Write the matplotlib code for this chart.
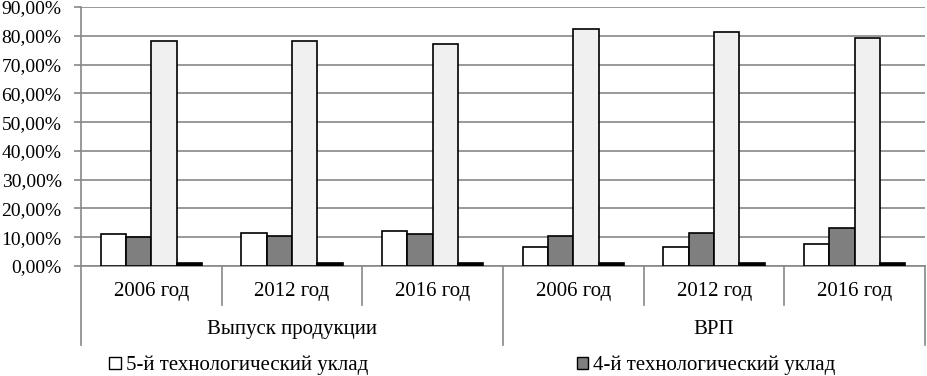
import numpy as np
import matplotlib.pyplot as plt
from matplotlib.patches import Patch
from matplotlib.ticker import FuncFormatter
from matplotlib.transforms import blended_transform_factory

plt.rcParams['font.family'] = ['Liberation Serif', 'DejaVu Serif']

years = ['2006 год', '2012 год', '2016 год', '2006 год', '2012 год', '2016 год']
groups = ['Выпуск продукции', 'ВРП']
series = ['5-й технологический уклад', '4-й технологический уклад',
          '3-й технологический уклад', '6-й технологический уклад']
v5 = [0.111, 0.116, 0.120, 0.067, 0.067, 0.077]
v4 = [0.102, 0.104, 0.110, 0.105, 0.116, 0.131]
v3 = [0.783, 0.783, 0.770, 0.824, 0.813, 0.793]
v6 = [0.009, 0.009, 0.009, 0.009, 0.009, 0.009]
colors = ['white', '#7f7f7f', '#f0f0f0', 'black']

fig = plt.figure(figsize=(9.27, 3.76), dpi=100)
ax = fig.add_axes([0.0874, 0.2926, 0.9106, 0.6888])

x = np.arange(len(years))
w = 0.18
for i, (vals, c) in enumerate(zip([v5, v4, v3, v6], colors)):
    ax.bar(x + (i - 1.5) * w, vals, w, color=c, edgecolor='black', linewidth=1.2,
           label=series[i], zorder=3)

ax.set_ylim(0, 0.9)
ax.set_xlim(-0.5, len(years) - 0.5)
ax.set_yticks(np.arange(0, 0.91, 0.1))
ax.yaxis.set_major_formatter(FuncFormatter(lambda v, p: f'{v*100:.2f}%'.replace('.', ',')))
ax.tick_params(axis='y', length=5, width=1.2, color='#888888', labelsize=14, pad=9)
ax.set_xticks([])
ax.yaxis.grid(True, color='#888888', linewidth=1.2, zorder=0)
for s in ['top', 'right']:
    ax.spines[s].set_visible(False)
ax.spines['left'].set_color('#888888')
ax.spines['bottom'].set_color('#888888')
ax.spines['left'].set_linewidth(1.2)
ax.spines['bottom'].set_linewidth(1.2)

tr = blended_transform_factory(ax.transData, ax.transAxes)
for i, lab in enumerate(years):
    ax.text(i, -0.10, lab, transform=tr, ha='center', va='center', fontsize=15)
for b in np.arange(0.5, len(years) - 1, 1):
    if b == 2.5:
        continue
    ax.plot([b, b], [0, -0.15], transform=tr, color='#888888', lw=1.2, clip_on=False)
for b in [-0.5, 2.5, 5.5]:
    ax.plot([b, b], [0, -0.305], transform=tr, color='#888888', lw=1.2, clip_on=False)
for j, g in enumerate(groups):
    ax.text(1 + 3 * j, -0.245, g, transform=tr, ha='center', va='center', fontsize=15)

handles = [Patch(facecolor=colors[k], edgecolor='black', linewidth=1) for k in range(2)]
fig.legend(handles, series[:2], ncol=2, loc='center left', bbox_to_anchor=(0.118, 0.028),
           frameon=False, fontsize=15, handlelength=0.55, handleheight=0.55,
           handletextpad=0.25, columnspacing=10.0, borderpad=0, borderaxespad=0)

fig.savefig('out.png', dpi=100)
